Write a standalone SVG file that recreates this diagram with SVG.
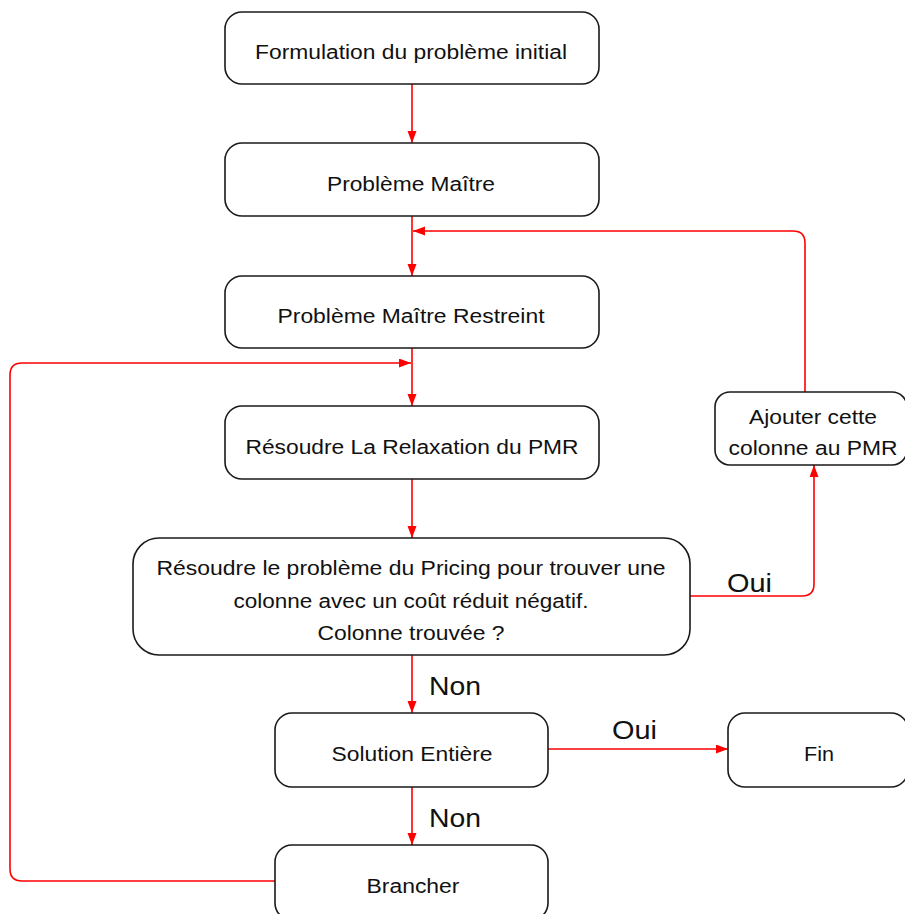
<svg xmlns="http://www.w3.org/2000/svg" width="905" height="914" viewBox="0 0 905 914">
<defs>
<marker id="ah" markerWidth="13" markerHeight="10" refX="12" refY="4.5" orient="auto" markerUnits="userSpaceOnUse">
<path d="M0,0 L12,4.5 L0,9 z" fill="#ff0000"/>
</marker>
<style>
.box{fill:#ffffff;stroke:#1a1a1a;stroke-width:1.6}
.t{font-family:"Liberation Sans",Arial,Helvetica,sans-serif;font-size:19.5px;fill:#111;text-anchor:middle}
.lbl{font-family:"Liberation Sans",Arial,Helvetica,sans-serif;font-size:25px;fill:#111}
.c{fill:none;stroke:#ff0000;stroke-width:1.6;marker-end:url(#ah)}
.cn{fill:none;stroke:#ff0000;stroke-width:1.6}
</style>
</defs>
<rect width="905" height="914" fill="#ffffff"/>
<g id="connectors">
<path class="c" d="M412,84 V143"/>
<path class="c" d="M412,216 V276"/>
<path class="c" d="M805,392 V243 Q805,231 793,231 H413"/>
<path class="c" d="M412,348 V406"/>
<path class="c" d="M275,881 H22 Q10,881 10,869 V375 Q10,363 22,363 H411"/>
<path class="c" d="M412,479 V538"/>
<path class="c" d="M690,596 H802 Q814,596 814,584 V465"/>
<path class="c" d="M412,655 V713"/>
<path class="c" d="M548,749 H728"/>
<path class="c" d="M412,787 V845"/>
<text class="lbl" x="727" y="592" textLength="45" lengthAdjust="spacingAndGlyphs">Oui</text>
<text class="lbl" x="429" y="695" textLength="52" lengthAdjust="spacingAndGlyphs">Non</text>
<text class="lbl" x="612" y="739" textLength="45" lengthAdjust="spacingAndGlyphs">Oui</text>
<text class="lbl" x="429" y="827" textLength="52" lengthAdjust="spacingAndGlyphs">Non</text>
</g>
<g id="n1">
<rect class="box" x="225" y="12" width="374" height="72" rx="17"/>
<text class="t" x="411" y="59" textLength="312" lengthAdjust="spacingAndGlyphs">Formulation du problème initial</text>
</g>
<g id="n2">
<rect class="box" x="225" y="143" width="374" height="73" rx="17"/>
<text class="t" x="411" y="191" textLength="168" lengthAdjust="spacingAndGlyphs">Problème Maître</text>
</g>
<g id="n3">
<rect class="box" x="225" y="276" width="374" height="72" rx="17"/>
<text class="t" x="411" y="323" textLength="267" lengthAdjust="spacingAndGlyphs">Problème Maître Restreint</text>
</g>
<g id="n4">
<rect class="box" x="225" y="406" width="374" height="73" rx="17"/>
<text class="t" x="412" y="454" textLength="333" lengthAdjust="spacingAndGlyphs">Résoudre La Relaxation du PMR</text>
</g>
<g id="n5">
<rect class="box" x="133" y="538" width="557" height="117" rx="26"/>
<text class="t" x="411" y="575" textLength="509" lengthAdjust="spacingAndGlyphs">Résoudre le problème du Pricing pour trouver une</text>
<text class="t" x="411" y="608" textLength="355" lengthAdjust="spacingAndGlyphs">colonne avec un coût réduit négatif.</text>
<text class="t" x="411" y="640" textLength="187" lengthAdjust="spacingAndGlyphs">Colonne trouvée ?</text>
</g>
<g id="n6">
<rect class="box" x="715" y="392" width="192" height="73" rx="15"/>
<text class="t" x="813" y="424" textLength="128" lengthAdjust="spacingAndGlyphs">Ajouter cette</text>
<text class="t" x="813" y="455" textLength="169" lengthAdjust="spacingAndGlyphs">colonne au PMR</text>
</g>
<g id="n7">
<rect class="box" x="275" y="713" width="273" height="74" rx="17"/>
<text class="t" x="412" y="761" textLength="161" lengthAdjust="spacingAndGlyphs">Solution Entière</text>
</g>
<g id="n8">
<rect class="box" x="728" y="713" width="180" height="74" rx="17"/>
<text class="t" x="819" y="761" textLength="30" lengthAdjust="spacingAndGlyphs">Fin</text>
</g>
<g id="n9">
<rect class="box" x="275" y="845" width="273" height="75" rx="17"/>
<text class="t" x="413" y="893" textLength="93" lengthAdjust="spacingAndGlyphs">Brancher</text>
</g>
</svg>
